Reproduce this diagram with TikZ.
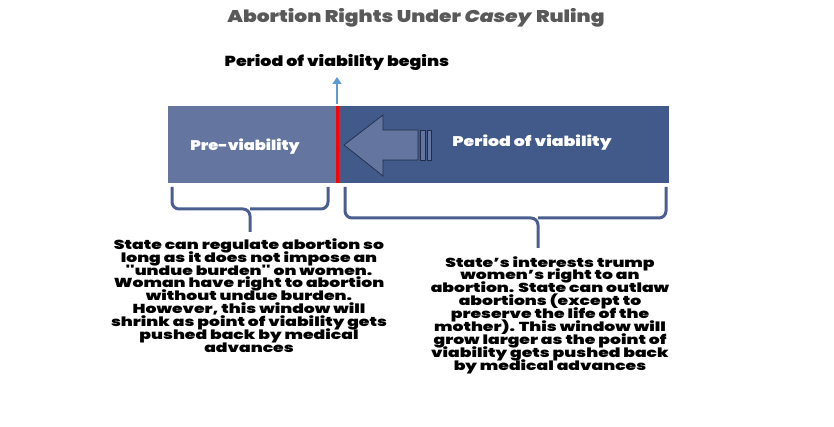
\documentclass[tikz,border=0pt]{standalone}
\usepackage{fontspec}
\setmainfont{Poppins}
\newfontfamily\heavy{Poppins}[UprightFont=* Black, ItalicFont=* Black Italic]
\usetikzlibrary{arrows.meta}
\definecolor{prebar}{HTML}{64769F}
\definecolor{postbar}{HTML}{425A89}
\definecolor{bracecol}{HTML}{4A5F8F}
\definecolor{shiftline}{HTML}{1F2D4A}
\definecolor{titlegray}{HTML}{595959}
\definecolor{upblue}{HTML}{5B9BD5}
\newcommand{\wide}[2]{\scalebox{#1}[1]{#2}}
\newcommand{\tightlines}[1]{\vbox{\baselineskip=12.9pt\lineskiplimit=-20pt\halign{\hfil##\hfil\cr#1\crcr}}}
\begin{document}
\begin{tikzpicture}
            [x=1pt,y=-1pt,
             Label/.style={text=white,font=\heavy\fontsize{14}{16}\selectfont},
             Body/.style={inner sep=0pt,font=\heavy\fontsize{13}{12.9}\selectfont},
             Brace/.style={draw=bracecol,line width=3pt,rounded corners=7pt}];
            \useasboundingbox[fill=white] (0,0) rectangle (834,427);
            \node[text=titlegray,font=\heavy\fontsize{17}{20}\selectfont] (title) at (416,18){\wide{1.19}{Abortion Rights Under \textit{Casey} Ruling}};
            \node[font=\heavy\fontsize{14.5}{16}\selectfont] (begins) at (337,63){\wide{1.2}{Period of viability begins}};
            % the bar
            \fill[prebar] (168,106) rectangle (337,183);
            \fill[postbar] (337,106) rectangle (669,183);
            \node[Label] (pre) at (245,147){\wide{1.16}{Pre-viability}};
            \node[Label] (post) at (532,143){\wide{1.24}{Period of viability}};
            % shift of the point of viability
            \filldraw[fill=prebar,draw=shiftline,line width=0.7pt] (344,145) -- (383,115) -- (383,130) -- (418,130)
                -- (418,160) -- (383,160) -- (383,176) -- cycle;
            \filldraw[fill=prebar,draw=shiftline,line width=0.7pt] (420,130) rectangle (425,160);
            \filldraw[fill=prebar,draw=shiftline,line width=0.7pt] (427,130) rectangle (431,160);
            \draw[red,line width=3pt] (337,106) -- (337,183);
            \coordinate (foot) at (337,104);
            \coordinate (head) at (337,77);
            \draw [-{Triangle[width=9pt,length=7pt]},upblue,line width=1.2pt](foot) to (head);
            % braces
            \draw[Brace] (172,187) -- (172,209) -- (250,209) -- (250,232);
            \draw[Brace] (328,187) -- (328,209) -- (250,209);
            \draw[Brace] (345,187) -- (345,218) -- (538,218) -- (538,248);
            \draw[Brace] (666,187) -- (666,218) -- (538,218);
            \node[Body] (lefttext) at (249,295.5){\wide{1.32}{\tightlines{State can regulate abortion so\cr long as it does not impose an\cr ''undue burden'' on women.\cr Woman have right to abortion\cr without undue burden.\cr However, this window will\cr shrink as point of viability gets\cr pushed back by medical\cr advances}}};
            \node[Body] (righttext) at (550,315){\wide{1.32}{\tightlines{State’s interests trump\cr women’s right to an\cr abortion. State can outlaw\cr abortions (except to\cr preserve the life of the\cr mother). This window will\cr grow larger as the point of\cr viability gets pushed back\cr by medical advances}}};
        \end{tikzpicture}
\end{document}
